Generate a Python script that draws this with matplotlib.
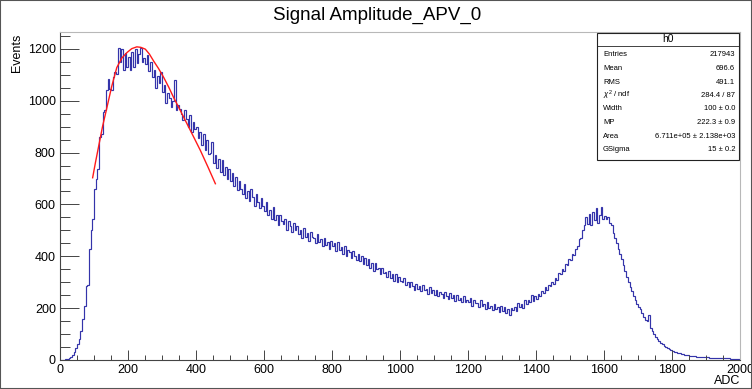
import numpy as np
import matplotlib
matplotlib.use("Agg")
import matplotlib.pyplot as plt
from matplotlib.patches import Rectangle
from matplotlib.lines import Line2D
from matplotlib.ticker import MultipleLocator

plt.rcParams['font.family'] = ['Liberation Sans', 'DejaVu Sans']
plt.rcParams['mathtext.fontset'] = 'custom'
plt.rcParams['mathtext.rm'] = 'Liberation Sans'
plt.rcParams['mathtext.it'] = 'Liberation Sans:italic'

# ---------------- data ----------------
bin_width = 5
x_min, x_max = 0, 2000
counts = [
    # 0 - 100
    0, 0, 1, 2, 4, 7, 12, 20, 32, 48, 62, 80, 110, 160, 210, 285, 290, 430, 500, 545,
    # 100 - 200
    660, 700, 735, 860, 870, 955, 965, 1040, 1085, 1045, 1040, 1090, 1110, 1105, 1205, 1150, 1200, 1120, 1185, 1130,
    # 200 - 300
    1170, 1120, 1190, 1130, 1200, 1145, 1180, 1205, 1150, 1165, 1140, 1175, 1115, 1150, 1090, 1120, 1050, 1095, 1070, 1110,
    # 300 - 400
    1035, 1060, 990, 1030, 1010, 975, 1000, 1080, 965, 985, 970, 950, 925, 965, 930, 900, 945, 880, 920, 890,
    # 400 - 500
    900, 855, 880, 830, 870, 810, 850, 795, 800, 840, 760, 790, 740, 775, 725, 770, 715, 745, 700, 735,
    # 500 - 600
    690, 720, 670, 705, 655, 690, 660, 640, 680, 625, 650, 615, 660, 630, 595, 640, 610, 585, 625, 595,
    # 600 - 700
    575, 610, 560, 580, 545, 590, 540, 560, 520, 560, 535, 525, 545, 500, 535, 515, 495, 530, 500, 515,
    # 700 - 800
    485, 500, 470, 510, 475, 490, 460, 495, 475, 470, 450, 485, 455, 465, 440, 470, 445, 455, 430, 460,
    # 800 - 900
    440, 450, 420, 455, 425, 435, 410, 440, 400, 425, 415, 395, 420, 400, 385, 410, 380, 400, 370, 395,
    # 900 - 1000
    365, 390, 355, 375, 345, 375, 350, 355, 330, 355, 335, 340, 320, 345, 315, 330, 305, 330, 300, 320,
    # 1000 - 1100
    305, 300, 315, 290, 300, 280, 300, 285, 270, 295, 275, 285, 265, 290, 270, 275, 255, 280, 258, 270,
    # 1100 - 1200
    250, 270, 248, 262, 255, 240, 262, 245, 235, 258, 240, 250, 228, 252, 232, 240, 222, 245, 225, 232,
    # 1200 - 1300
    222, 238, 210, 232, 218, 220, 205, 230, 210, 215, 198, 225, 200, 208, 192, 215, 195, 205, 185, 208,
    # 1300 - 1400
    190, 205, 180, 198, 172, 200, 192, 205, 190, 220, 205, 215, 200, 232, 215, 230, 222, 252, 228, 245,
    # 1400 - 1500
    235, 255, 248, 265, 258, 280, 270, 290, 285, 300, 295, 318, 310, 335, 330, 350, 345, 370, 365, 390,
    # 1500 - 1600
    385, 410, 405, 430, 440, 465, 470, 500, 520, 550, 525, 565, 520, 570, 540, 585, 530, 560, 590, 545,
    # 1600 - 1700
    555, 545, 550, 530, 520, 490, 470, 450, 430, 410, 390, 365, 345, 320, 300, 280, 265, 245, 230, 215,
    # 1700 - 1800
    205, 195, 180, 165, 155, 150, 175, 125, 112, 100, 88, 80, 72, 66, 60, 55, 50, 46, 42, 38,
    # 1800 - 1900
    35, 32, 30, 28, 26, 24, 22, 21, 19, 18, 17, 16, 15, 14, 13, 13, 12, 12, 11, 11,
    # 1900 - 2000
    10, 10, 9, 9, 9, 8, 8, 8, 7, 7, 7, 6, 6, 6, 5, 5, 5, 5, 4, 4,
]
fit_x = [96, 104, 113, 125, 138, 152, 167, 182, 197, 211, 226, 238, 251, 263, 275,
         290, 305, 320, 334, 354, 374, 394, 413, 435, 457]
fit_y = [703, 760, 820, 900, 974, 1055, 1128, 1165, 1186, 1201, 1208, 1206, 1199, 1180, 1154,
         1124, 1090, 1052, 1013, 962, 910, 858, 808, 745, 680]

title = "Signal Amplitude_APV_0"
x_label = "ADC"
y_label = "Events"
stats_title = "h0"
stats_names = ["Entries", "Mean", "RMS", r"$\chi^2$ / ndf", "Width", "MP", "Area", "GSigma"]
stats_values = ["217943", "696.6", "491.1", "284.4 / 87", "100 \u00b1 0.0",
                "222.3 \u00b1 0.9", "6.711e+05 \u00b1 2.138e+03", "15 \u00b1 0.2"]

# ---------------- figure ----------------
W, H = 752, 389
fig = plt.figure(figsize=(W / 100, H / 100), dpi=100)
fig.patch.set_facecolor('white')

def fx(px):
    return px / W

def fy(py):
    return 1 - py / H

ax_l, ax_r, ax_t, ax_b = 60, 740, 32, 360
ax = fig.add_axes([fx(ax_l), fy(ax_b), fx(ax_r) - fx(ax_l), fy(ax_t) - fy(ax_b)])

edges = np.arange(x_min, x_max + bin_width, bin_width)
ax.stairs(counts, edges, color='#3434aa', lw=0.85)
ax.plot(fit_x, fit_y, color='#ff1a1a', lw=1.0)

ymax = 1.05 * max(counts)
ax.set_xlim(x_min, x_max)
ax.set_ylim(0, ymax)

ax.xaxis.set_major_locator(MultipleLocator(200))
ax.xaxis.set_minor_locator(MultipleLocator(50))
ax.yaxis.set_major_locator(MultipleLocator(200))
ax.yaxis.set_minor_locator(MultipleLocator(50))

axis_col = '#444444'
ax.tick_params(axis='x', which='major', direction='in', length=7.2, width=0.7,
               color=axis_col, labelsize=9, pad=3, top=False)
ax.tick_params(axis='x', which='minor', direction='in', length=3.6, width=0.7,
               color=axis_col, top=False)
ax.tick_params(axis='y', which='major', direction='in', length=14, width=0.7,
               color=axis_col, labelsize=9, pad=3, right=False)
ax.tick_params(axis='y', which='minor', direction='in', length=7, width=0.7,
               color=axis_col, right=False)

for s in ['left', 'bottom']:
    ax.spines[s].set_color(axis_col)
    ax.spines[s].set_linewidth(0.8)
for s in ['right', 'top']:
    ax.spines[s].set_color('#b8b8b8')
    ax.spines[s].set_linewidth(0.8)

# title and axis labels
fig.text(fx(377), fy(15), title, ha='center', va='center', fontsize=13.5)
fig.text(fx(740), fy(381), x_label, ha='right', va='center', fontsize=9)
fig.text(fx(17), fy(34), y_label, ha='center', va='top', rotation=90, fontsize=9)

# stats box
bx0, bx1, by0, by1 = 597, 739, 33, 160
fig.patches.append(Rectangle((fx(bx0), fy(by1)), fx(bx1) - fx(bx0), fy(by0) - fy(by1),
                             transform=fig.transFigure, fill=True, facecolor='white',
                             edgecolor='#222222', lw=0.8, zorder=5))
fig.lines.append(Line2D([fx(bx0), fx(bx1)], [fy(46), fy(46)], transform=fig.transFigure,
                        color='#222222', lw=0.6, zorder=6))
fig.text(fx((bx0 + bx1) / 2), fy(39.5), stats_title, ha='center', va='center',
         fontsize=7.5, zorder=7)
row_y0, row_dy = 55, 13.5
for i, (n, v) in enumerate(zip(stats_names, stats_values)):
    yy = row_y0 + i * row_dy
    fig.text(fx(603), fy(yy), n, ha='left', va='center', fontsize=5.5, zorder=7)
    fig.text(fx(735), fy(yy), v, ha='right', va='center', fontsize=5.5, zorder=7)

# canvas frame
fig.patches.append(Rectangle((0, 0), 1, 1, transform=fig.transFigure, fill=False,
                             edgecolor='#555555', lw=1.5, zorder=10))

fig.savefig('out.png', dpi=100)
